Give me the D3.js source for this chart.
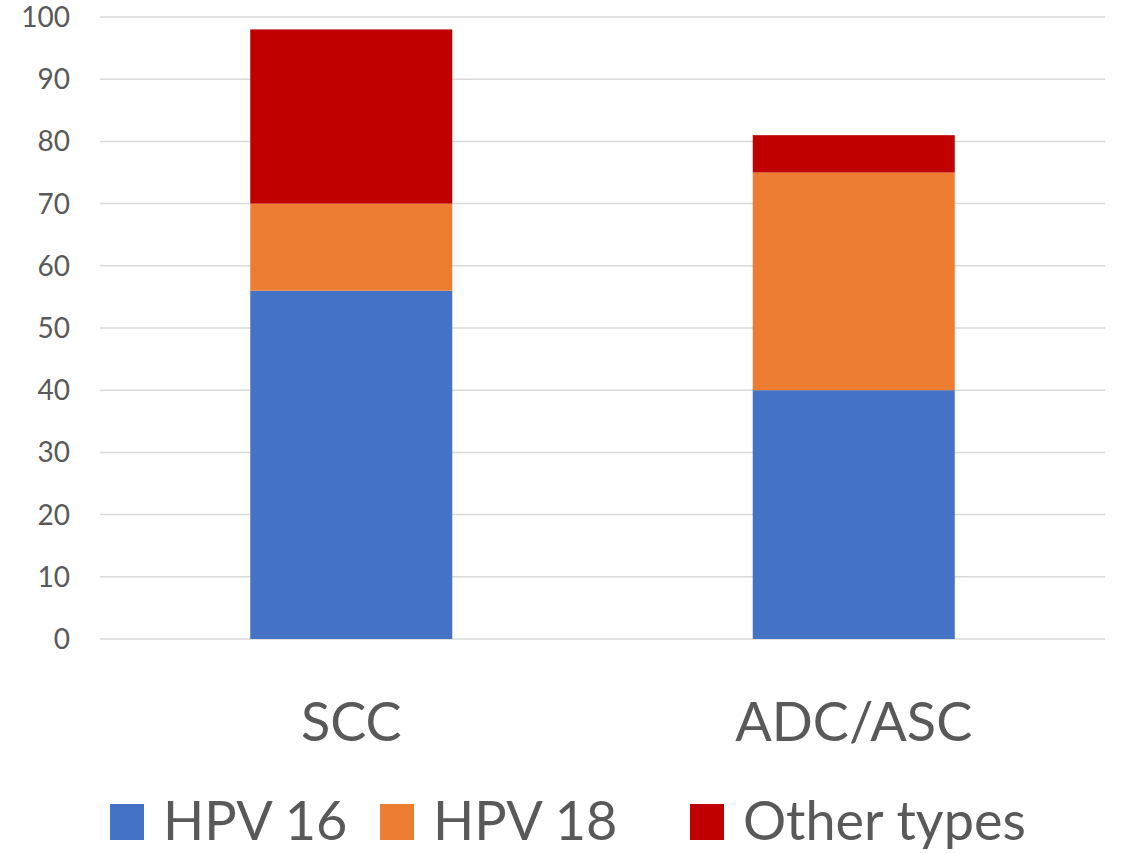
<!DOCTYPE html>
<html>
<head>
<meta charset="utf-8">
<script src="https://cdn.jsdelivr.net/npm/d3@7"></script>
<style>
  body { margin: 0; background: #fff; }
  text { font-family: Lato, "Open Sans", sans-serif; fill: #595959; }
</style>
</head>
<body>
<div id="chart"></div>
<script>
"use strict";
const categories = ["SCC", "ADC/ASC"];
const seriesNames = ["HPV 16", "HPV 18", "Other types"];
const hpv16 = [56, 40];
const hpv18 = [14, 35];
const otherTypes = [28, 6];
const yTicks = [0, 10, 20, 30, 40, 50, 60, 70, 80, 90, 100];
const colors = ["#4472c4", "#ed7d31", "#c00000"];

let width = 1122, height = 853;
let margin = { top: 17, right: 17, bottom: 214, left: 100 };

let svg = d3.select("#chart")
    .append("svg")
    .attr("width", width)
    .attr("height", height);

let rows = categories.map(function (c, i) {
    return { cat: c, "HPV 16": hpv16[i], "HPV 18": hpv18[i], "Other types": otherTypes[i] };
});
let stack = d3.stack().keys(seriesNames)(rows);

let x = d3.scaleBand()
    .domain(categories)
    .range([margin.left, width - margin.right])
    .paddingInner(0.598)
    .paddingOuter(0.299);

let y = d3.scaleLinear()
    .domain([0, 100])
    .range([height - margin.bottom, margin.top]);

// gridlines
svg.append("g")
    .selectAll("line")
    .data(yTicks)
    .enter().append("line")
    .attr("x1", margin.left)
    .attr("x2", width - margin.right)
    .attr("y1", d => y(d))
    .attr("y2", d => y(d))
    .attr("stroke", "#d9d9d9")
    .attr("stroke-width", 1.5);

// tick labels
svg.append("g")
    .selectAll("text")
    .data(yTicks)
    .enter().append("text")
    .attr("x", 70)
    .attr("y", d => y(d))
    .attr("dy", "0.36em")
    .attr("text-anchor", "end")
    .style("font-size", "28px")
    .text(d => d);

// bars
svg.append("g")
    .selectAll("g")
    .data(stack)
    .enter().append("g")
    .attr("fill", (d, i) => colors[i])
    .selectAll("rect")
    .data(d => d)
    .enter().append("rect")
    .attr("x", d => x(d.data.cat))
    .attr("width", x.bandwidth())
    .attr("y", d => y(d[1]))
    .attr("height", d => y(d[0]) - y(d[1]));

// category labels
svg.append("g")
    .selectAll("text")
    .data(categories)
    .enter().append("text")
    .attr("x", d => x(d) + x.bandwidth() / 2)
    .attr("y", 741)
    .attr("text-anchor", "middle")
    .style("font-size", "54px")
    .text(d => d);

// legend
let legendX = [110, 380, 690];
let legend = svg.append("g")
    .selectAll("g")
    .data(seriesNames)
    .enter().append("g")
    .attr("transform", (d, i) => "translate(" + legendX[i] + ",804)");
legend.append("rect")
    .attr("width", 34)
    .attr("height", 36)
    .attr("fill", (d, i) => colors[i]);
legend.append("text")
    .attr("x", 53)
    .attr("y", 36)
    .style("font-size", "54px")
    .text(d => d);
</script>
</body>
</html>
